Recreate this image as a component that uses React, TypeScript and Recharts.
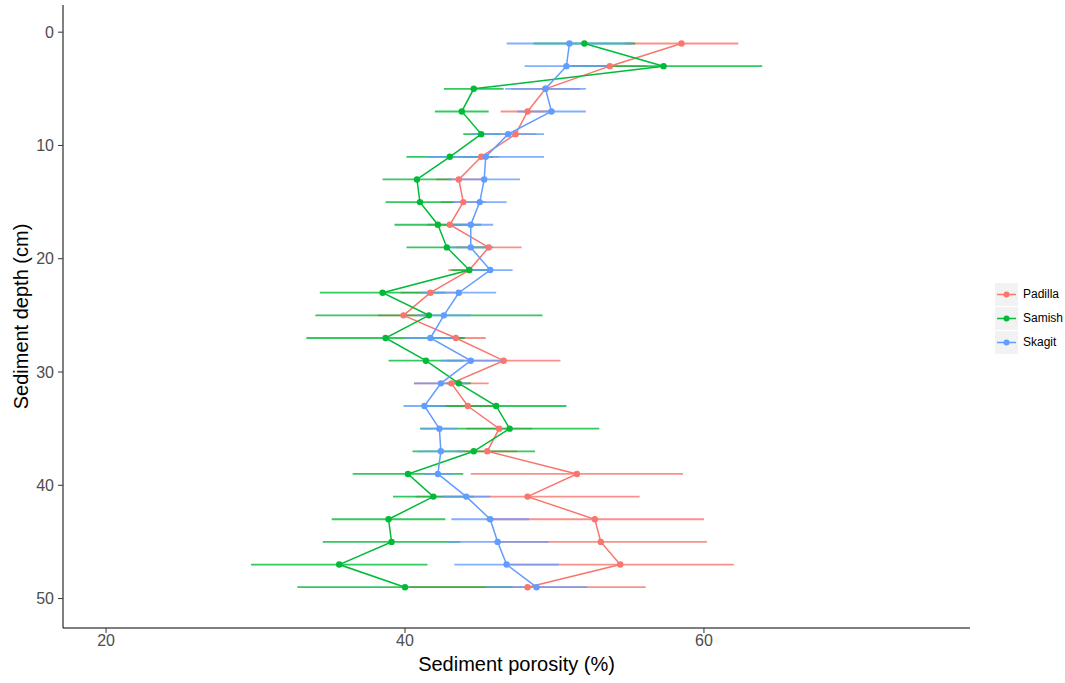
import { ScatterChart, Scatter, XAxis, YAxis, ErrorBar, Legend } from "recharts";

const depths = [1, 3, 5, 7, 9, 11, 13, 15, 17, 19, 21, 23, 25, 27, 29, 31, 33, 35, 37, 39, 41, 43, 45, 47, 49];

const padillaMean = [58.5, 53.7, 49.4, 48.2, 47.4, 45.1, 43.6, 43.9, 43.0, 45.6, 44.3, 41.7, 39.9, 43.4, 46.6, 43.1, 44.2, 46.3, 45.5, 51.5, 48.2, 52.7, 53.1, 54.4, 48.2];
const padillaSd = [3.8, 2.5, 2.3, 1.8, 1.4, 1.2, 1.5, 1.5, 1.5, 2.2, 1.4, 2.0, 1.7, 2.0, 3.8, 2.5, 2.0, 2.2, 2.0, 7.1, 7.5, 7.3, 7.1, 7.6, 7.9];

const samishMean = [52.0, 57.3, 44.6, 43.8, 45.1, 43.0, 40.8, 41.0, 42.2, 42.8, 44.3, 38.5, 41.6, 38.7, 41.4, 43.6, 46.1, 47.0, 44.6, 40.2, 41.9, 38.9, 39.1, 35.6, 40.0];
const samishSd = [3.4, 6.6, 2.0, 1.8, 1.2, 2.9, 2.3, 2.3, 2.9, 2.7, 1.2, 4.2, 7.6, 5.3, 2.5, 0.8, 4.7, 6.0, 4.1, 3.7, 2.7, 3.8, 4.6, 5.9, 7.2];

const skagitMean = [51.0, 50.8, 49.4, 49.8, 46.9, 45.4, 45.3, 45.0, 44.4, 44.4, 45.7, 43.6, 42.6, 41.7, 44.4, 42.4, 41.3, 42.3, 42.4, 42.2, 44.1, 45.7, 46.2, 46.8, 48.8];
const skagitSd = [4.2, 2.8, 2.7, 2.3, 2.4, 3.9, 2.4, 1.8, 1.5, 1.5, 1.5, 2.5, 1.8, 1.7, 2.0, 1.8, 1.4, 1.2, 1.5, 1.0, 1.6, 2.6, 3.4, 3.5, 3.4];

const xTicks = [20, 40, 60];
const yTicks = [0, 10, 20, 30, 40, 50];

const series = [
  { name: "Padilla", color: "#F8766D", mean: padillaMean, sd: padillaSd },
  { name: "Samish", color: "#00BA38", mean: samishMean, sd: samishSd },
  { name: "Skagit", color: "#619CFF", mean: skagitMean, sd: skagitSd },
].map((s) => ({
  ...s,
  data: depths.map((d, i) => ({ depth: d, porosity: s.mean[i], sd: s.sd[i] })),
}));

const font = "'Liberation Sans', Arial, sans-serif";

function renderLegend() {
  return (
    <div style={{ fontFamily: font }}>
      {series.map((s) => (
        <div key={s.name} style={{ display: "flex", alignItems: "center", height: 24 }}>
          <svg width={23} height={23} style={{ background: "#f2f2f2" }}>
            <line x1={2} y1={11.5} x2={21} y2={11.5} stroke={s.color} strokeWidth={1.5} />
            <circle cx={11.5} cy={11.5} r={3} fill={s.color} />
          </svg>
          <span style={{ marginLeft: 5, fontSize: 12, color: "#000" }}>{s.name}</span>
        </div>
      ))}
    </div>
  );
}

export default function App() {
  return (
    <div style={{ position: "absolute", left: 0, top: 0, fontFamily: font }}>
      <ScatterChart width={1065} height={683} margin={{ top: 5, right: 95, bottom: 0, left: 0 }}>
        <XAxis
          type="number"
          dataKey="porosity"
          domain={[17.12, 77.8]}
          ticks={xTicks}
          allowDataOverflow
          height={55}
          axisLine={{ stroke: "#000", strokeWidth: 1 }}
          tickLine={{ stroke: "#333" }}
          tickSize={5}
          tickMargin={2}
          tick={{ fill: "#4d4d4d", fontSize: 16, fontFamily: font }}
          label={{ value: "Sediment porosity (%)", position: "insideBottom", offset: 12, style: { fill: "#000", fontSize: 20, fontFamily: font } }}
        />
        <YAxis
          type="number"
          dataKey="depth"
          domain={[-2.4, 52.6]}
          reversed
          ticks={yTicks}
          allowDataOverflow
          width={63}
          axisLine={{ stroke: "#000", strokeWidth: 1 }}
          tickLine={{ stroke: "#333" }}
          tickSize={5}
          tickMargin={4}
          tick={{ fill: "#4d4d4d", fontSize: 16, fontFamily: font }}
          label={{ value: "Sediment depth (cm)", angle: -90, position: "insideLeft", offset: 21, style: { textAnchor: "middle", fill: "#000", fontSize: 20, fontFamily: font } }}
        />
        {series.map((s) => (
          <Scatter key={s.name + "-err"} data={s.data} shape={() => <g />} legendType="none" isAnimationActive={false}>
            <ErrorBar dataKey="sd" direction="x" width={0} stroke={s.color} strokeWidth={1.8} strokeOpacity={0.8} isAnimationActive={false} />
          </Scatter>
        ))}
        {series.map((s) => (
          <Scatter
            key={s.name}
            name={s.name}
            data={s.data}
            fill={s.color}
            line={{ stroke: s.color, strokeWidth: 1.5 }}
            shape={(p: any) => <circle cx={p.cx} cy={p.cy} r={3.2} fill={s.color} />}
            isAnimationActive={false}
          />
        ))}
        <Legend layout="vertical" align="center" verticalAlign="middle" wrapperStyle={{ left: 995, top: 282, width: "auto" }} content={renderLegend} />
      </ScatterChart>
    </div>
  );
}
